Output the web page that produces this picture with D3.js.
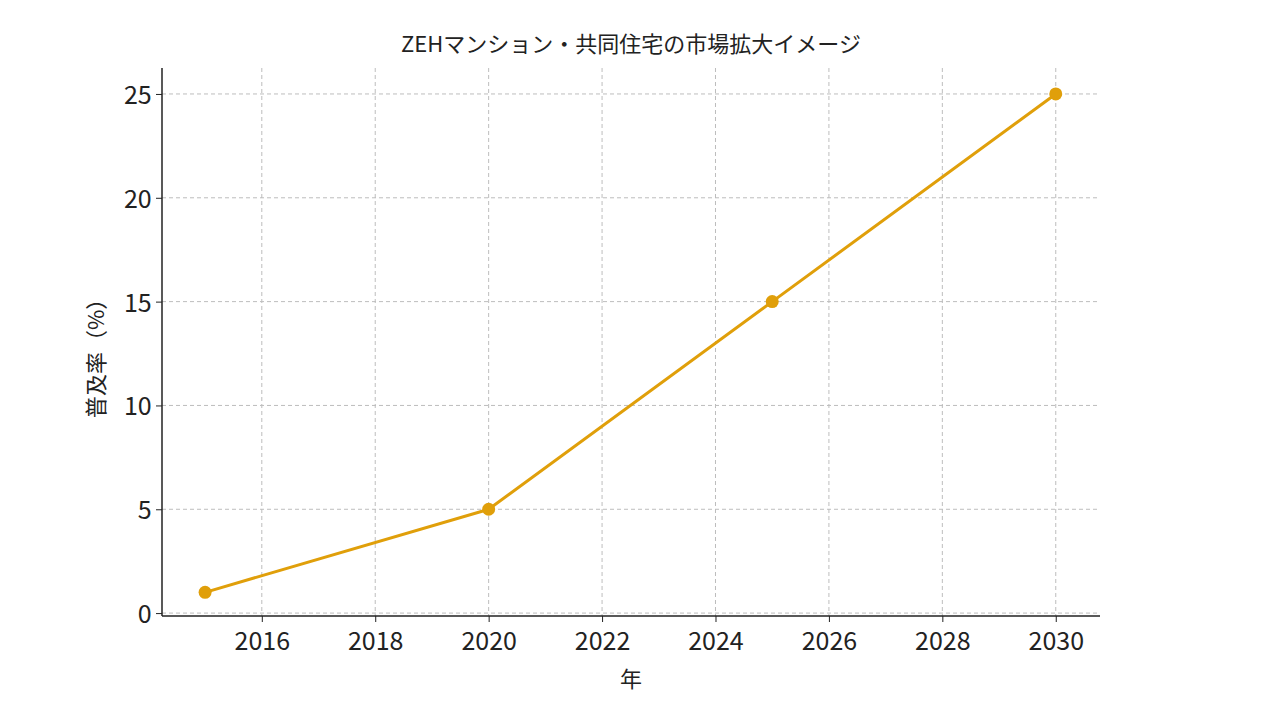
<!DOCTYPE html>
<html><head><meta charset="utf-8">
<script src="https://cdn.jsdelivr.net/npm/d3@7"></script>
<style>body{margin:0;background:#fff}text{font-family:"Noto Sans CJK JP","Noto Sans",sans-serif}</style>
</head><body>
<svg id="c" width="1280" height="720"></svg>
<script>
const years=[2015,2020,2025,2030];
const rates=[1,5,15,25];
const xTicks=[2016,2018,2020,2022,2024,2026,2028,2030];
const yTicks=[0,5,10,15,20,25];
const title="ZEHマンション・共同住宅の市場拡大イメージ";
const xLabel="年", yLabel="普及率（%）";

const svg=d3.select("#c");
const L=162,R=1100,T=68,B=616;
const x=d3.scaleLinear().domain([2014.24,2030.78]).range([L,R]);
const y=d3.scaleLinear().domain([-0.14,26.25]).range([B,T]);
const g=svg.append("g");
g.selectAll(".gx").data(xTicks).join("line").attr("x1",d=>x(d)).attr("x2",d=>x(d)).attr("y1",T).attr("y2",B)
 .attr("stroke","#bdbdbd").attr("stroke-dasharray","4,3");
g.selectAll(".gy").data(yTicks).join("line").attr("y1",d=>y(d)).attr("y2",d=>y(d)).attr("x1",L).attr("x2",R)
 .attr("stroke","#bdbdbd").attr("stroke-dasharray","4,3");
const xa=svg.append("g").attr("transform",`translate(0,${B})`).call(d3.axisBottom(x).tickValues(xTicks).tickFormat(d3.format("d")).tickSizeOuter(0).tickSize(6));
const ya=svg.append("g").attr("transform",`translate(${L},0)`).call(d3.axisLeft(y).tickValues(yTicks).tickSizeOuter(0).tickSize(6));
[xa,ya].forEach(a=>{a.selectAll("text").attr("font-size",25).attr("fill","#222").style("font-family","'Noto Sans CJK JP'");a.select(".domain").remove();a.selectAll(".tick line").attr("stroke","#222");});
svg.append("line").attr("x1",L).attr("x2",R).attr("y1",B).attr("y2",B).attr("stroke","#222").attr("stroke-width",1.5);
svg.append("line").attr("x1",L).attr("x2",L).attr("y1",T).attr("y2",B).attr("stroke","#222").attr("stroke-width",1.5);
xa.selectAll("text").attr("dy","1.0em");
ya.selectAll("text").attr("dx","-0.05em").attr("dy","0.38em");
svg.append("path").datum(years.map((d,i)=>[d,rates[i]])).attr("fill","none").attr("stroke","#e09f0a").attr("stroke-width",3)
 .attr("d",d3.line().x(d=>x(d[0])).y(d=>y(d[1])));
svg.selectAll(".pt").data(years).join("circle").attr("cx",d=>x(d)).attr("cy",(d,i)=>y(rates[i])).attr("r",6.5).attr("fill","#e09f0a");
svg.append("text").attr("x",631).attr("y",52).attr("text-anchor","middle").attr("font-size",22).attr("fill","#222").text(title);
svg.append("text").attr("x",631).attr("y",687).attr("text-anchor","middle").attr("font-size",22).attr("fill","#222").text(xLabel);
svg.append("text").attr("transform","translate(104,353) rotate(-90)").attr("text-anchor","middle").attr("font-size",22).attr("fill","#222").text(yLabel);
</script></body></html>
